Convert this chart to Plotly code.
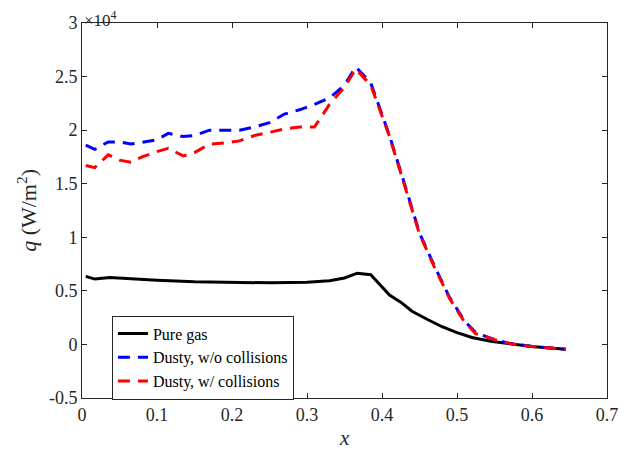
import plotly.graph_objects as go

# Data (q in W/m^2)
x_gas = [0.005, 0.017, 0.037, 0.06, 0.1, 0.15, 0.2, 0.25, 0.3, 0.33, 0.35, 0.367, 0.385,
         0.41, 0.425, 0.44, 0.46, 0.48, 0.50, 0.52, 0.545, 0.57, 0.6, 0.62, 0.645]
q_gas = [6350, 6100, 6250, 6150, 6000, 5850, 5780, 5750, 5800, 5950, 6200, 6650, 6500,
         4600, 3950, 3100, 2350, 1650, 1100, 650, 300, 50, -200, -300, -450]

x_dusty = [0.005, 0.017, 0.035, 0.05, 0.065, 0.08, 0.1, 0.115, 0.135, 0.15, 0.17, 0.19,
           0.21, 0.23, 0.25, 0.27, 0.29, 0.31, 0.33, 0.35, 0.365, 0.385, 0.41, 0.43,
           0.45, 0.47, 0.49, 0.51, 0.525, 0.55, 0.57, 0.6, 0.62, 0.645]
q_nocoll = [18600, 18200, 18900, 18900, 18700, 18900, 19100, 19700, 19400, 19500, 20000, 20000,
            20000, 20300, 20700, 21500, 21900, 22400, 23000, 24200, 25900, 24400, 19500, 15000,
            10400, 7300, 4400, 2200, 1100, 450, 100, -200, -300, -450]
q_coll = [16700, 16500, 17700, 17200, 17000, 17500, 18000, 18300, 17600, 17900, 18700, 18800,
          19000, 19500, 19800, 20100, 20300, 20300, 22400, 24000, 25700, 24200, 19400, 14900,
          10300, 7200, 4300, 2100, 1000, 450, 100, -200, -300, -450]

y_ticks = [-5000, 0, 5000, 10000, 15000, 20000, 25000, 30000]
y_ticklabels = ["-0.5", "0", "0.5", "1", "1.5", "2", "2.5", "3"]
x_ticks = [0, 0.1, 0.2, 0.3, 0.4, 0.5, 0.6, 0.7]
x_ticklabels = ["0", "0.1", "0.2", "0.3", "0.4", "0.5", "0.6", "0.7"]

FONT = "Liberation Serif, DejaVu Serif, serif"
AX = "#262626"

fig = go.Figure()
fig.add_trace(go.Scatter(x=x_gas, y=q_gas, mode="lines", name="Pure gas",
                         line=dict(color="black", width=3)))
fig.add_trace(go.Scatter(x=x_dusty, y=q_nocoll, mode="lines", name="Dusty, w/o collisions",
                         line=dict(color="#0000ff", width=3, dash="12px,8px")))
fig.add_trace(go.Scatter(x=x_dusty, y=q_coll, mode="lines", name="Dusty, w/ collisions",
                         line=dict(color="#ff0000", width=3, dash="12px,8px")))

axis_common = dict(showgrid=False, zeroline=False, showline=True, linecolor=AX, linewidth=1,
                   mirror="ticks", ticks="inside", ticklen=5, tickcolor=AX, tickwidth=1,
                   automargin=False,
                   tickfont=dict(family=FONT, size=18, color=AX))

fig.update_xaxes(range=[0, 0.7], tickvals=x_ticks, ticktext=x_ticklabels, **axis_common)
fig.update_yaxes(range=[-5000, 30000], tickvals=y_ticks, ticktext=y_ticklabels, **axis_common)

# axis titles and exponent label
fig.add_annotation(text="<i>x</i>", xref="paper", yref="paper", x=0.5, y=-0.107,
                   xanchor="center", yanchor="middle", showarrow=False,
                   font=dict(family=FONT, size=21, color=AX))
fig.add_annotation(text="<i>q</i> (W/m<sup>2</sup>)", xref="paper", yref="paper", x=-0.106, y=0.5,
                   xanchor="center", yanchor="middle", showarrow=False, textangle=-90,
                   font=dict(family=FONT, size=22, color=AX))
fig.add_annotation(text="×10<sup>4</sup>", xref="paper", yref="paper", x=0, y=1,
                   xanchor="left", yanchor="bottom", showarrow=False, yshift=-9,
                   font=dict(family=FONT, size=17, color=AX))

# the page body has an 8px margin, so the figure is sized/placed to compensate
fig.update_layout(
    width=624, height=444,
    margin=dict(l=74, r=25, t=15, b=54),
    paper_bgcolor="white", plot_bgcolor="white",
    showlegend=True,
    legend=dict(x=0.057, y=0.22, xanchor="left", yanchor="top",
                bgcolor="white", bordercolor=AX, borderwidth=1,
                font=dict(family=FONT, size=16, color="black"),
                itemwidth=30, tracegroupgap=0),
)

fig.write_html("out.html")
